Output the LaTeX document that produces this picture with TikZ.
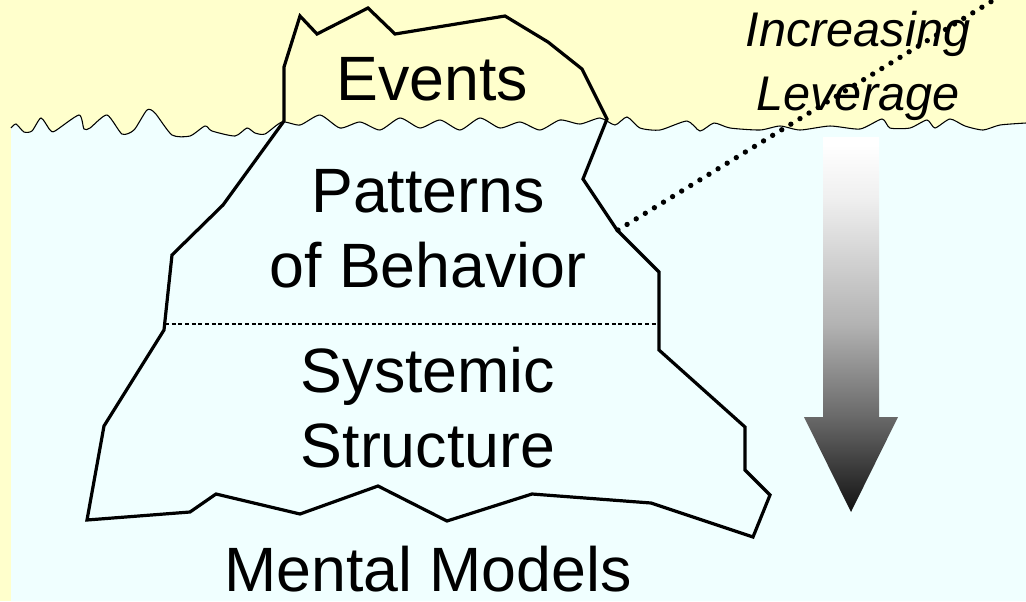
\documentclass[tikz,border=0pt]{standalone}
\usepackage{fontspec}
\setmainfont{Liberation Sans}
\definecolor{sky}{RGB}{255,255,204}
\definecolor{water}{RGB}{240,255,255}
\pgfdeclareverticalshading{levershade}{100bp}{color(0bp)=(black!93); color(25bp)=(black!93); color(38bp)=(black!58); color(50bp)=(black!30); color(67bp)=(black!6); color(74bp)=(white); color(100bp)=(white)}
\tikzset{
  berg/.style={line width=2.4pt, line join=miter},
  waveline/.style={line width=0.8pt},
  bigtext/.style={inner sep=0pt, anchor=base, font=\fontsize{47}{56}\selectfont},
  levertext/.style={inner sep=0pt, anchor=base, font=\fontsize{36.5}{40}\selectfont\itshape},
  levline/.style={line width=4pt, line cap=round, dash pattern=on 0pt off 8pt},
  midline/.style={line width=0.8pt, dash pattern=on 3pt off 2pt},
}
\def\waves{(11,128) (16,124) (24,132) (32,131) (41,118) (50,130) (55,131) (79,115) (84,129) (90,128) (107,115) (122,134) (134,130) (147,110) (155,113) (172,135) (190,136) (205,126) (212,131) (235,136) (247,128) (255,133) (265,134) (282,122) (300,125) (320,115) (340,128) (360,122) (380,130) (400,118) (420,128) (440,120) (460,130) (480,118) (500,128) (520,122) (540,130) (560,120) (580,124) (600,118) (615,125) (627,117) (640,128) (660,130) (687,121) (700,131) (714,123) (730,128) (760,130) (780,126) (800,130) (830,126) (860,129) (882,119) (890,128) (910,128) (927,120) (935,128) (950,119) (965,126) (983,130) (1000,125) (1026,123)}
\begin{document}
\begin{tikzpicture}[x=0.75pt,y=-0.75pt]
\useasboundingbox (0,0) rectangle (1026,601);
% background
\fill[sky] (0,0) rectangle (1026,601);
\fill[water] (11,601) -- plot[smooth, tension=0.4] coordinates {\waves} -- (1026,601) -- cycle;
\draw[waveline] plot[smooth, tension=0.4] coordinates {\waves};
% iceberg
\draw[berg] (284,121) -- (284,67) -- (300,16) -- (317,34) -- (368,8) -- (395,34) -- (505,16) -- (548,42) -- (582,69) -- (607,119) -- (583,179) -- (617,230) -- (659,272) -- (659,350) -- (745,427) -- (745,470) -- (770,495) -- (753,537) -- (651,503) -- (532,494) -- (447,521) -- (378,486) -- (300,514) -- (216,494) -- (190,512) -- (87,520) -- (104,426) -- (164,330) -- (172,255) -- (223,205) -- cycle;
% dashed divider
\coordinate (divL) at (165,324);
\coordinate (divR) at (659,324);
\draw[midline] (divL) -- (divR);
% leverage arrow
\shade[shading=levershade] (823,137) -- (879,137) -- (879,417) -- (898,417) -- (851,512) -- (804,417) -- (823,417) -- cycle;
% dotted line
\coordinate (dotA) at (618,230);
\coordinate (dotB) at (997,-2);
\draw[levline] (dotA) -- (dotB);
% texts
\node[bigtext] (events) at (432,100) {Events};
\node[bigtext] (patterns) at (428,212) {Patterns};
\node[bigtext] (behavior) at (428,287) {of Behavior};
\node[bigtext] (systemic) at (428,392) {Systemic};
\node[bigtext] (structure) at (428,467) {Structure};
\node[bigtext] (mental) at (428,591) {Mental Models};
\node[levertext] (increasing) at (858,46) {Increasing};
\node[levertext] (leverage) at (858,110) {Leverage};
\end{tikzpicture}
\end{document}
